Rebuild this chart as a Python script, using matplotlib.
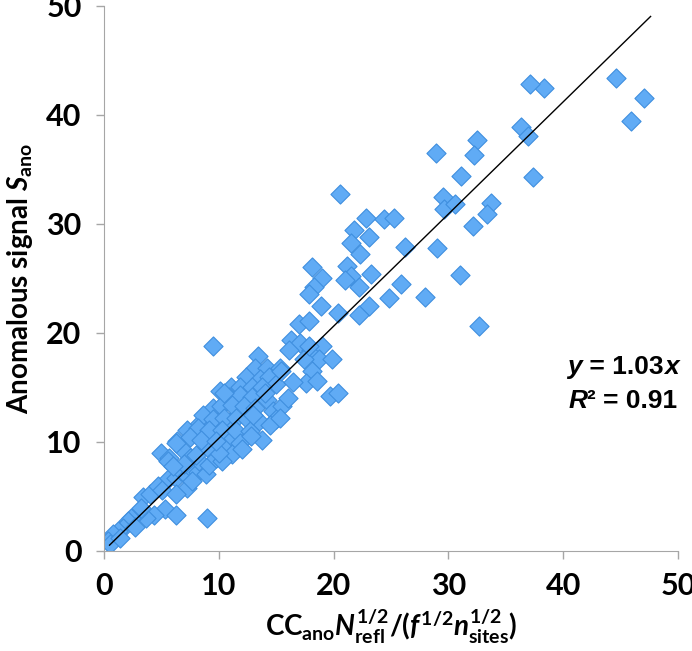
import matplotlib
matplotlib.use("Agg")
import matplotlib.pyplot as plt
import numpy as np
from matplotlib.offsetbox import TextArea, HPacker, VPacker, AnchoredOffsetbox

plt.rcParams['font.family'] = ['Lato', 'DejaVu Sans']
plt.rcParams['font.weight'] = 'bold'
plt.rcParams['mathtext.fontset'] = 'custom'
plt.rcParams['mathtext.rm'] = 'Lato:bold'
plt.rcParams['mathtext.bf'] = 'Lato:bold'
plt.rcParams['mathtext.it'] = 'Lato:italic:bold'

# values
cc_upper = [44.6, 47.0, 45.9, 38.3, 37.1, 36.3, 36.9, 37.4, 28.9, 32.5, 32.2, 31.1, 29.5, 29.6,
            30.6, 33.7, 33.4, 32.1, 24.4, 25.3, 26.2, 29.0, 31.0, 25.9, 24.8, 28.0, 32.7]
s_upper = [43.4, 41.5, 39.4, 42.5, 42.8, 38.9, 38.1, 34.3, 36.5, 37.7, 36.3, 34.4, 32.5, 31.4,
           31.8, 31.9, 30.9, 29.8, 30.4, 30.5, 27.9, 27.8, 25.3, 24.5, 23.2, 23.3, 20.6]

cc_mid = [20.6, 22.8, 21.8, 23.1, 21.5, 22.3, 18.1, 21.2, 19.0, 21.5, 23.3, 18.3, 17.9, 21.0,
          22.2, 18.9, 23.1, 20.4, 22.2, 17.0, 17.9, 16.3, 17.1, 16.1, 18.0, 19.0, 18.7, 19.9,
          17.4, 18.1, 17.6, 18.6, 19.7, 20.4, 15.4, 15.5, 15.3, 17.9, 16.0, 16.5]
s_mid = [32.7, 30.5, 29.4, 28.8, 28.2, 27.2, 26.0, 26.1, 25.0, 25.2, 25.4, 24.2, 23.6, 24.8,
         24.2, 22.5, 22.5, 21.8, 21.6, 20.8, 21.1, 19.3, 19.1, 18.4, 18.4, 18.8, 17.6, 17.6,
         17.6, 16.5, 15.4, 15.6, 14.2, 14.5, 16.5, 13.3, 12.2, 18.8, 14.0, 15.5]

cc_core = [9.5, 13.4, 13.2, 14.2, 15.3, 12.4, 13.6, 14.4, 15.0, 11.1, 10.1, 11.9, 12.9, 13.8,
           10.9, 11.9, 12.9, 14.2, 9.5, 10.2, 11.2, 12.2, 13.2, 14.7, 15.0, 8.6, 9.5, 10.5,
           11.5, 12.5, 13.5, 8.2, 9.2, 10.3, 11.5, 12.7, 13.8, 7.5, 8.5, 9.8, 11.9, 6.3, 10.5,
           12.0, 12.8, 14.5, 14.0, 13.0]
s_core = [18.8, 17.9, 16.8, 16.8, 16.8, 15.9, 15.8, 15.9, 15.3, 15.0, 14.7, 15.0, 15.0, 15.0,
          14.1, 14.3, 14.1, 13.8, 13.1, 13.3, 13.4, 13.3, 13.1, 12.8, 12.1, 12.5, 12.1, 12.2,
          12.2, 12.1, 11.9, 11.3, 11.1, 11.1, 11.0, 11.0, 10.2, 10.4, 10.2, 10.1, 9.9, 9.9, 14.5,
          9.3, 10.5, 11.5, 14.5, 12.5]

cc_low = [9.0, 5.3, 6.3, 4.4, 3.7, 3.0, 2.4, 2.1, 1.7, 1.2, 0.8, 0.4, 0.5, 3.4, 4.0, 4.7, 5.1,
          5.7, 6.3, 6.7, 7.2, 7.6, 8.2, 8.3, 5.0, 5.7, 6.9, 7.5, 8.0, 8.9, 9.5, 10.1, 10.6, 8.3,
          9.2, 7.2, 6.3, 7.7, 8.9, 9.2, 9.8, 11.1, 11.2, 11.2, 10.3, 7.2, 6.4, 5.6, 10.0, 7.0,
          8.0, 9.0, 6.0, 2.7, 1.4, 3.2]
s_low = [3.0, 3.8, 3.3, 3.3, 3.0, 3.6, 3.0, 2.7, 2.1, 1.8, 1.5, 0.9, 0.6, 4.9, 5.2, 5.9, 5.6,
         6.7, 6.7, 7.3, 6.9, 7.6, 7.2, 8.2, 9.0, 8.5, 9.2, 8.5, 10.7, 10.4, 9.5, 11.0, 9.8, 11.6,
         11.6, 5.8, 5.2, 6.4, 7.0, 7.9, 8.5, 11.9, 10.4, 8.9, 8.2, 11.1, 10.1, 8.2, 9.0, 8.0,
         8.8, 9.5, 7.8, 2.2, 1.2, 3.9]

fit_slope = 1.03
fit_x = [0.5, 47.6]
r_squared = 0.91

x = np.array(cc_low + cc_core + cc_mid + cc_upper)
y = np.array(s_low + s_core + s_mid + s_upper)

fig = plt.figure(figsize=(6.92, 6.51), dpi=100)
ax = fig.add_axes([0.150, 0.154, 0.830, 0.837])

ax.scatter(x, y, marker='D', s=95, facecolor='#60abf5', edgecolor='#3f8fdf',
           linewidth=0.8, zorder=2)
fx = np.array(fit_x)
ax.plot(fx, fit_slope * fx, color='black', lw=1.0, zorder=3)

ax.set_xlim(0, 50)
ax.set_ylim(0, 50)
ax.set_xticks(range(0, 51, 10))
ax.set_yticks(range(0, 51, 10))
for side in ['top', 'right']:
    ax.spines[side].set_visible(False)
for side in ['left', 'bottom']:
    ax.spines[side].set_color('#a6a6a6')
ax.tick_params(direction='out', length=6, width=1, color='#a6a6a6', labelsize=22)
ax.tick_params(axis='y', pad=10)
ax.tick_params(axis='x', pad=9)

ax.set_xlabel(r'CC$_{\mathrm{ano}}\mathit{N}_{\mathrm{refl}}^{1/2}$/($\mathit{f}^{1/2}\mathit{n}_{\mathrm{sites}}^{1/2}$)',
              fontsize=20, fontweight='bold', labelpad=6)
ax.set_ylabel(r'Anomalous signal $\mathit{S}_{\mathrm{ano}}$', fontsize=20,
              fontweight='bold', labelpad=8)

# regression annotation
fp = dict(family='Liberation Sans', weight='bold', size=19)
line1 = HPacker(children=[TextArea('y', textprops=dict(style='italic', **fp)),
                          TextArea(' = %.2f' % fit_slope, textprops=fp),
                          TextArea('x', textprops=dict(style='italic', **fp))],
                align='baseline', pad=0, sep=0)
line2 = HPacker(children=[TextArea('R', textprops=dict(style='italic', **fp)),
                          TextArea('\u00b2 = %.2f' % r_squared, textprops=fp)],
                align='baseline', pad=0, sep=0)
box = VPacker(children=[line1, line2], align='center', pad=0, sep=7)
anchored = AnchoredOffsetbox(loc='center', child=box, frameon=False,
                             bbox_to_anchor=(45.2, 15.3), bbox_transform=ax.transData)
ax.add_artist(anchored)

plt.savefig('out.png', dpi=100)
